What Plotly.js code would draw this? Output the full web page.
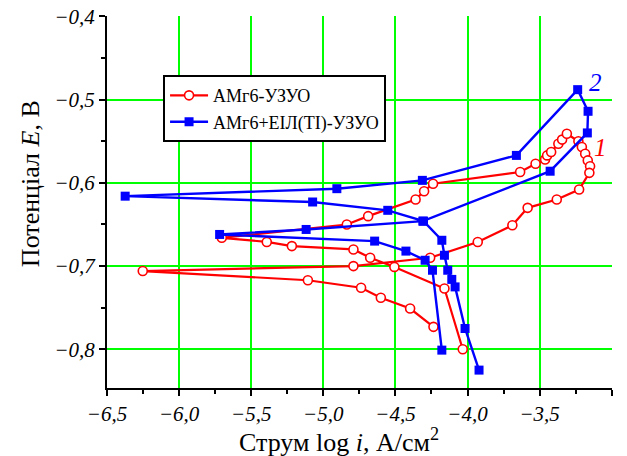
<!DOCTYPE html>
<html>
<head>
<meta charset="utf-8">
<script src="https://cdn.plot.ly/plotly-3.0.1.min.js"></script>
<style>
  html, body { margin: 0; padding: 0; background: #ffffff; }
  #chart { width: 627px; height: 456px; }
</style>
</head>
<body>
<div id="chart"></div>
<script>
// Polarization curves: log current density vs potential
const seriesNames = ['АМг6-УЗУО', 'АМг6+ЕІЛ(ТІ)-УЗУО'];

// АМг6-УЗУО (curve 1)
const redX = [-4.033, -4.160, -4.507, -4.675, -4.791, -5.218, -5.392, -5.704,
  -4.837, -4.689, -4.360, -4.301, -4.239, -3.635, -3.528, -3.462, -3.448, -3.420,
  -3.370, -3.344, -3.311, -3.231, -3.207, -3.184, -3.166, -3.150, -3.155, -3.226,
  -3.381, -3.583, -3.689, -3.929, -4.259, -4.791, -6.252, -5.107, -4.738, -4.601,
  -4.398, -4.236];
const redY = [-0.800, -0.727, -0.701, -0.690, -0.680, -0.676, -0.671, -0.666,
  -0.650, -0.640, -0.620, -0.610, -0.601, -0.587, -0.577, -0.572, -0.567, -0.563,
  -0.553, -0.548, -0.541, -0.550, -0.557, -0.565, -0.573, -0.580, -0.588, -0.608,
  -0.620, -0.630, -0.651, -0.671, -0.690, -0.700, -0.706, -0.717, -0.726, -0.738,
  -0.751, -0.773];

// АМг6+ЕІЛ(ТІ)-УЗУО (curve 2)
const blueX = [-4.178, -4.243, -4.294, -4.427, -4.644, -5.719, -5.119, -4.310,
  -3.427, -3.169, -3.164, -3.236, -3.661, -4.313, -4.906, -6.374, -5.074, -4.553,
  -4.305, -4.178, -4.160, -4.137, -4.109, -4.086, -4.017, -3.920];
const blueY = [-0.801, -0.705, -0.693, -0.682, -0.670, -0.662, -0.656, -0.646,
  -0.586, -0.540, -0.514, -0.488, -0.567, -0.597, -0.607, -0.616, -0.623, -0.633,
  -0.646, -0.669, -0.687, -0.705, -0.716, -0.725, -0.775, -0.825];

// Axis tick values and their labels (comma decimal, italic)
const xTickVals = [-6.5, -6.0, -5.5, -5.0, -4.5, -4.0, -3.5, -3.0];
const xTickText = ['−6,5', '−6,0', '−5,5', '−5,0', '−4,5', '−4,0', '−3,5', '−3,0'];
const yTickVals = [-0.8, -0.7, -0.6, -0.5, -0.4];
const yTickText = ['−0,8', '−0,7', '−0,6', '−0,5', '−0,4'];

// Curve number labels
const curveLabels = ['1', '2'];
const curveLabelX = [-3.080, -3.115];
const curveLabelY = [-0.557, -0.479];
const curveLabelColors = ['#ff0000', '#0000ff'];

const serif = 'Liberation Serif';

const traces = [
  {
    x: redX, y: redY, name: seriesNames[0], type: 'scatter', mode: 'lines+markers',
    line: { color: '#ff0000', width: 2.2 },
    marker: { symbol: 'circle', size: 9, color: '#ffffff', line: { color: '#ff0000', width: 1.6 } }
  },
  {
    x: blueX, y: blueY, name: seriesNames[1], type: 'scatter', mode: 'lines+markers',
    line: { color: '#0000ff', width: 2.4 },
    marker: { symbol: 'square', size: 9, color: '#0000ff' }
  }
];

function axisStyle(vals, text) {
  return {
    showline: true, linecolor: '#000000', linewidth: 2,
    ticks: 'outside', ticklen: 6, tickwidth: 2, tickcolor: '#000000',
    showgrid: true, gridcolor: '#00ff00', gridwidth: 2,
    zeroline: false,
    tickmode: 'array',
    tickvals: vals,
    ticktext: text.map(t => '<i>' + t + '</i>'),
    tickfont: { family: serif, size: 21, color: '#000000' }
  };
}

const annotations = curveLabels.map((t, i) => ({
  x: curveLabelX[i], y: curveLabelY[i], xref: 'x', yref: 'y',
  text: '<i>' + t + '</i>', showarrow: false,
  font: { family: serif, size: 25, color: curveLabelColors[i] }
}));

annotations.push({
  xref: 'paper', yref: 'paper', x: 0.459, y: -0.142,
  xanchor: 'center', yanchor: 'middle',
  text: 'Струм log <i>i</i>, А/см<sup>2</sup>', showarrow: false,
  font: { family: serif, size: 26, color: '#000000' }
});
annotations.push({
  xref: 'paper', yref: 'paper', x: -0.151, y: 0.55, textangle: -90,
  xanchor: 'center', yanchor: 'middle',
  text: 'Потенціал <i>E</i>, В', showarrow: false,
  font: { family: serif, size: 26, color: '#000000' }
});

const layout = {
  width: 627, height: 456,
  margin: { l: 107, r: 15, t: 16, b: 68 },
  paper_bgcolor: '#ffffff', plot_bgcolor: '#ffffff',
  font: { family: serif, size: 18, color: '#000000' },
  showlegend: true,
  legend: {
    x: 0.111, y: 0.841, xanchor: 'left', yanchor: 'top',
    bgcolor: '#ffffff', bordercolor: '#000000', borderwidth: 2,
    font: { family: serif, size: 18, color: '#000000' },
    itemwidth: 38,
    tracegroupgap: 0
  },
  // the upper end sits a hair past −3,0 so that the last tick keeps its label
  xaxis: Object.assign(axisStyle(xTickVals, xTickText), {
    range: [-6.5, -2.998],
    minor: { dtick: 0.25, tick0: -6.5, ticks: 'outside', ticklen: 4, tickwidth: 2, tickcolor: '#000000', showgrid: false }
  }),
  yaxis: Object.assign(axisStyle(yTickVals, yTickText), {
    range: [-0.8465, -0.3995],
    minor: { dtick: 0.05, tick0: -0.4, ticks: 'outside', ticklen: 4, tickwidth: 2, tickcolor: '#000000', showgrid: false }
  }),
  annotations: annotations
};

Plotly.newPlot('chart', traces, layout, { displayModeBar: false, staticPlot: true });
</script>
</body>
</html>
